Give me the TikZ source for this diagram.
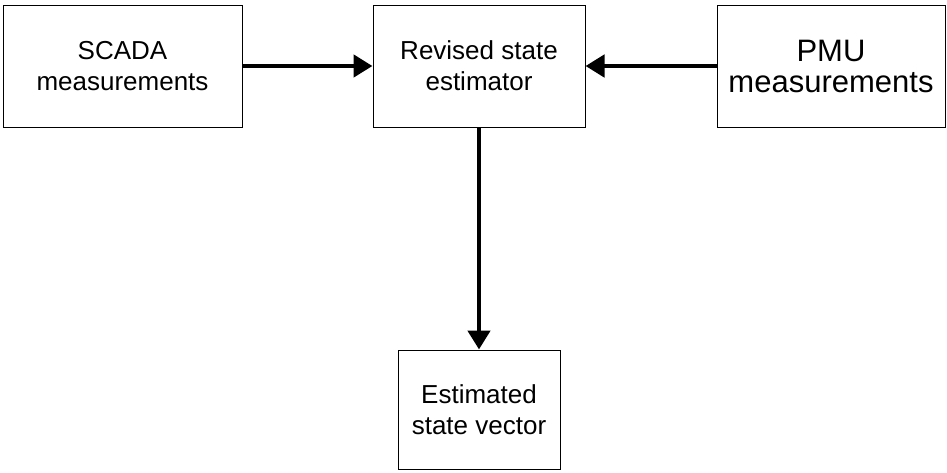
\documentclass[tikz,border=0pt]{standalone}
\usepackage{fontspec}
\setmainfont{Liberation Sans}
\usepackage{tikz}
\usetikzlibrary{arrows.meta}

\begin{document}
\begin{tikzpicture}[x=0.5pt, y=-0.5pt,
    block/.style={draw, line width=0.5pt, align=center, inner sep=0pt,
        minimum height=61pt, font=\fontsize{13}{15.5}\selectfont},
    flow/.style={line width=2.3pt, -{Triangle[length=9.5pt, width=11pt]}}];
    \useasboundingbox (0,0) rectangle (947,472);

    \node[block, minimum width=119.5pt] (scada) at (122.5,66) {SCADA\\measurements};
    \node[block, minimum width=106pt] (rse) at (479,66) {Revised state\\estimator};
    \node[block, minimum width=114pt, font=\fontsize{15.5}{15.5}\selectfont] (pmu) at (831,66) {PMU\\measurements};
    \node[block, minimum width=81pt, minimum height=59.5pt] (esv) at (479,409.5) {Estimated\\state vector};

    \draw[flow] (scada) -- (rse);
    \draw[flow] (pmu) -- (rse);
    \draw[flow] (rse) -- (esv);
\end{tikzpicture}
\end{document}
